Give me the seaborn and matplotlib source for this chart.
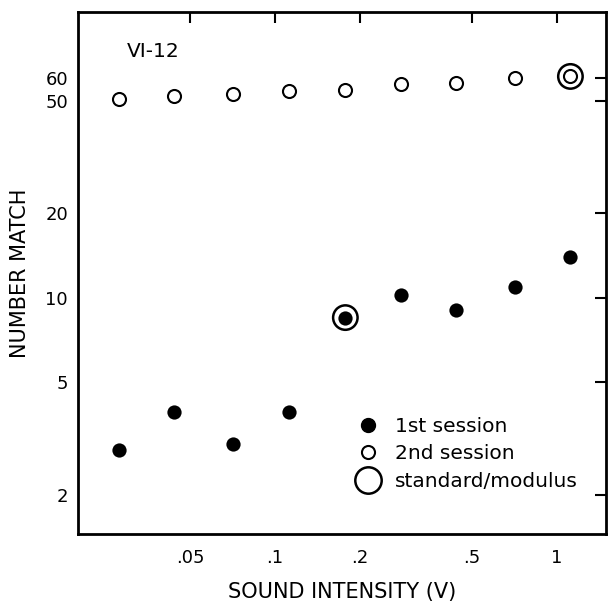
import numpy as np
import pandas as pd
import matplotlib
matplotlib.use("Agg")
import matplotlib.pyplot as plt
import seaborn as sns
from matplotlib.lines import Line2D
from matplotlib.ticker import FixedLocator, FixedFormatter, NullLocator

# ---- data ----
intensity = [0.028, 0.044, 0.071, 0.112, 0.178, 0.28, 0.44, 0.71, 1.12]
session1 = [2.87, 3.91, 3.03, 3.94, 8.49, 10.25, 9.06, 10.94, 13.97]
session2 = [50.8, 51.9, 52.6, 54.1, 54.3, 57.4, 57.7, 59.9, 60.9]
standard_x = [0.178, 1.12]
standard_y = [8.49, 60.9]

xticks = [0.05, 0.1, 0.2, 0.5, 1]
xticklabels = [".05", ".1", ".2", ".5", "1"]
yticks = [2, 5, 10, 20, 50, 60]
yticklabels = ["2", "5", "10", "20", "50", "60"]
legend_labels = ["1st session", "2nd session", "standard/modulus"]

sns.set_theme(style="white")
plt.rcParams["font.family"] = ["DejaVu Sans"]
plt.rcParams.update({"text.color": "black", "axes.labelcolor": "black",
                     "xtick.color": "black", "ytick.color": "black"})

df1 = pd.DataFrame({"x": intensity, "y": session1})
df2 = pd.DataFrame({"x": intensity, "y": session2})
dfs = pd.DataFrame({"x": standard_x, "y": standard_y})

fig = plt.figure(figsize=(6.08, 6.06), dpi=100)
ax = fig.add_axes([0.128, 0.119, 0.869, 0.861])

sns.scatterplot(data=dfs, x="x", y="y", ax=ax, s=310, facecolor="none",
                edgecolor="black", linewidth=1.8, legend=False, zorder=2)
sns.scatterplot(data=df1, x="x", y="y", ax=ax, s=105, color="black",
                edgecolor="black", linewidth=0, legend=False, zorder=3)
sns.scatterplot(data=df2, x="x", y="y", ax=ax, s=88, facecolor="white",
                edgecolor="black", linewidth=1.5, legend=False, zorder=3)

ax.set_xscale("log")
ax.set_yscale("log")
ax.set_xlim(0.02, 1.5)
ax.set_ylim(1.45, 103)

ax.xaxis.set_major_locator(FixedLocator(xticks))
ax.xaxis.set_major_formatter(FixedFormatter(xticklabels))
ax.xaxis.set_minor_locator(NullLocator())
ax.yaxis.set_major_locator(FixedLocator(yticks))
ax.yaxis.set_major_formatter(FixedFormatter(yticklabels))
ax.yaxis.set_minor_locator(NullLocator())

ax.tick_params(axis="both", which="major", direction="in", length=8, width=1.5,
               top=True, right=True, labelsize=13, colors="black")
ax.tick_params(axis="x", pad=11)
ax.tick_params(axis="y", pad=7)

for sp in ax.spines.values():
    sp.set_linewidth(2)
    sp.set_color("black")

ax.set_xlabel("SOUND INTENSITY (V)", fontsize=15, labelpad=11)
ax.set_ylabel("NUMBER MATCH", fontsize=15, labelpad=11)

ax.text(0.093, 0.924, "VI-12", transform=ax.transAxes, fontsize=14.5,
        ha="left", va="center")

handles = [
    Line2D([], [], linestyle="none", marker="o", markersize=10,
           markerfacecolor="black", markeredgecolor="black"),
    Line2D([], [], linestyle="none", marker="o", markersize=9.4,
           markerfacecolor="white", markeredgecolor="black", markeredgewidth=1.5),
    Line2D([], [], linestyle="none", marker="o", markersize=19,
           markerfacecolor="none", markeredgecolor="black", markeredgewidth=1.8),
]
ax.legend(handles, legend_labels, loc="upper left", bbox_to_anchor=(0.531, 0.224),
          frameon=False, fontsize=14.5, borderpad=0, handlelength=1.0,
          handletextpad=0.8, labelspacing=0.42, borderaxespad=0)

ax.set_facecolor("white")
fig.patch.set_facecolor("white")
fig.savefig("out.png", dpi=100)
